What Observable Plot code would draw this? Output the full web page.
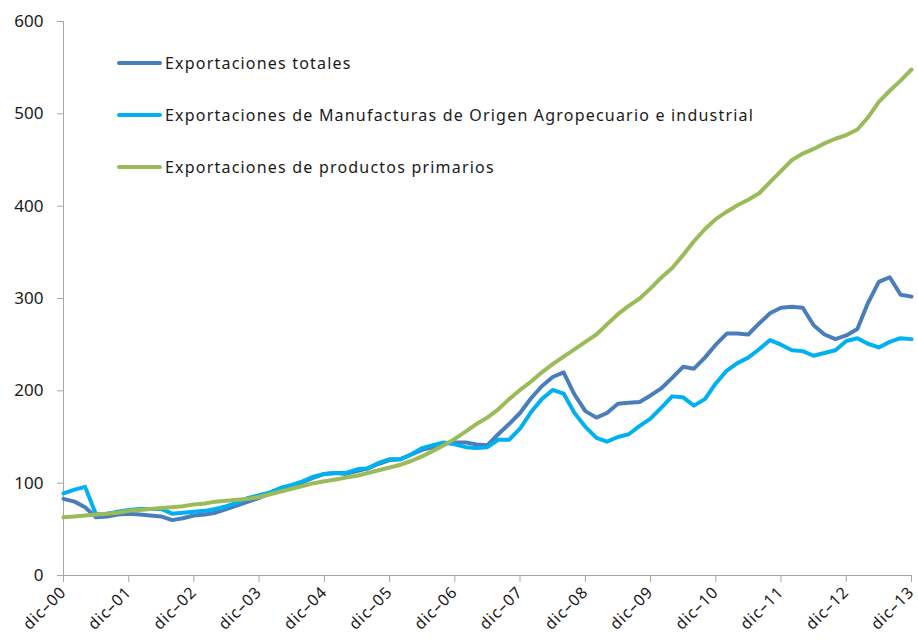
<!DOCTYPE html>
<html><head><meta charset="utf-8">
<script src="https://cdn.jsdelivr.net/npm/d3@7"></script>
<script src="https://cdn.jsdelivr.net/npm/@observablehq/plot@0.6"></script>
<style>
body{margin:0;background:#fff;font-family:"Noto Sans",sans-serif;}
#wrap{position:relative;width:918px;height:643px;}
#legend .item{position:absolute;left:117px;white-space:nowrap;display:flex;align-items:center;font-size:16px;letter-spacing:1.2px;color:#1a1a1a;height:20px;}
#legend .sw{width:45px;height:4px;margin-right:3px;border-radius:2px;}
#chart svg text{fill:#1a1a1a;}
#chart svg g[aria-label="x-axis tick label"] text{letter-spacing:0.9px;}
</style></head><body>
<div id="wrap"><div id="chart"></div><div id="legend"></div></div>
<script>
// Month offsets from dic-00 (every two months)
const monthOffsets = d3.range(0, 157, 2);

const seriesNames = [
  "Exportaciones totales",
  "Exportaciones de Manufacturas de Origen Agropecuario e industrial",
  "Exportaciones de productos primarios"
];
const seriesColors = ["#4a7ebb", "#00b0f0", "#9bbb59"];

const totales = [83,80,74,63,64,66,67,66,65,64,60,62,65,66,68,72,76,80,84,89,94,97,101,106,110,111,110,113,116,121,125,126,131,136,139,143,144,144,142,141,153,164,176,192,205,215,220,196,178,171,176,186,187,188,195,203,214,226,224,236,250,262,262,261,273,284,290,291,290,271,261,256,260,267,295,318,323,304,302];
const manufacturas = [89,93,96,66,67,69,71,72,72,72,67,68,69,70,72,75,79,84,87,90,95,98,102,107,110,111,111,115,116,122,126,126,131,138,141,144,142,139,138,139,147,147,159,177,191,201,197,176,161,149,145,150,153,162,170,182,194,193,184,191,208,222,230,236,245,255,250,244,243,238,241,244,254,257,251,247,253,257,256];
const primarios = [63,64,65,66,67,68,70,71,72,73,74,75,77,78,80,81,82,83,85,88,91,94,97,100,102,104,106,108,111,114,117,120,124,129,135,141,148,156,164,171,180,191,201,210,220,229,237,245,253,261,272,283,292,300,311,323,333,347,362,375,386,394,401,407,414,426,438,450,457,462,468,473,477,483,496,513,525,536,548];

const yTicks = [0,100,200,300,400,500,600];
const tickYears = d3.range(2000, 2014);

const monthDate = m => new Date(Date.UTC(2000, 11 + m, 1));
const seriesValues = [totales, manufacturas, primarios];
const rows = seriesValues.flatMap((vals, s) => vals.map((v, i) => ({serie: seriesNames[s], date: monthDate(monthOffsets[i]), value: v})));
const xTicks = tickYears.map(y => new Date(Date.UTC(y, 11, 1)));
const d0 = xTicks[0], d1 = xTicks[xTicks.length - 1];
const fmt = d => "dic\u2013" + String(d.getUTCFullYear() % 100).padStart(2, "0");

const chart = Plot.plot({
  width: 918, height: 643,
  marginLeft: 63, marginRight: 7, marginTop: 21, marginBottom: 68,
  style: {fontFamily: "Noto Sans, sans-serif", background: "#fff"},
  x: {type: "utc", domain: [d0, d1]},
  y: {domain: [0, 600]},
  color: {domain: seriesNames, range: seriesColors},
  marks: [
    Plot.axisY({ticks: yTicks, tickSize: 6, tickPadding: 14, fontSize: 17, stroke: "#a6a6a6", label: null}),
    Plot.axisX({ticks: xTicks, tickSize: 7, tickFormat: () => "", stroke: "#a6a6a6", label: null}),
    Plot.axisX({ticks: xTicks, tickSize: 0, tickPadding: 14, tickRotate: -45, fontSize: 16, label: null, dx: 0, tickFormat: fmt}),
    Plot.ruleY([0], {stroke: "#a6a6a6"}),
    Plot.ruleX([d0], {stroke: "#a6a6a6"}),
    Plot.line(rows, {x: "date", y: "value", z: "serie", stroke: "serie", strokeWidth: 4, curve: "linear"})
  ]
});
document.getElementById("chart").appendChild(chart);

const legend = document.getElementById("legend");
const legendTops = [53, 105, 157];
seriesNames.forEach((name, i) => {
  const it = document.createElement("div");
  it.className = "item";
  it.style.top = legendTops[i] + "px";
  it.innerHTML = `<span class="sw" style="background:${seriesColors[i]}"></span><span>${name}</span>`;
  legend.appendChild(it);
});
</script>
</body></html>
